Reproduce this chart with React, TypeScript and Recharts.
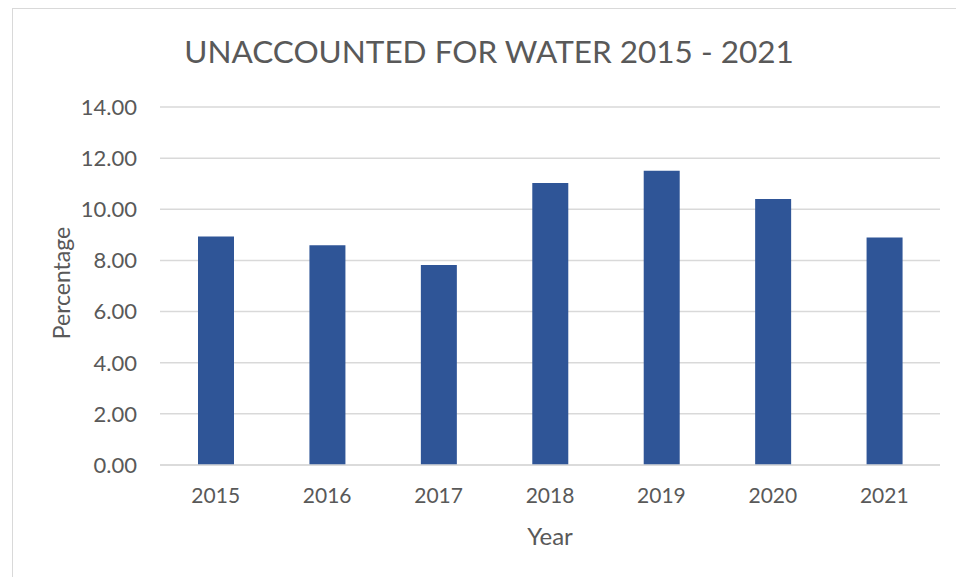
import React from 'react';
import { BarChart, Bar, XAxis, YAxis, CartesianGrid } from 'recharts';

const years = ['2015', '2016', '2017', '2018', '2019', '2020', '2021'];
const percentages = [8.94, 8.59, 7.82, 11.03, 11.51, 10.4, 8.9];
const yTicks = [0, 2, 4, 6, 8, 10, 12, 14];

const data = years.map((y, i) => ({ year: y, value: percentages[i] }));

const FONT = 'Lato, "Open Sans", sans-serif';
const TEXT = '#595959';

export default function App() {
  return (
    <div style={{ position: 'absolute', left: 0, top: 0, width: 956, height: 577, background: '#fff', overflow: 'hidden' }}>
      <div style={{ position: 'absolute', left: 12, top: 8, width: 960, height: 600, border: '1px solid #d9d9d9', boxSizing: 'border-box' }} />
      <div style={{ position: 'absolute', left: 0, top: 31, width: 978, textAlign: 'center', fontFamily: FONT, fontSize: 31.5, color: TEXT, lineHeight: '40px' }}>
        UNACCOUNTED FOR WATER 2015 - 2021
      </div>
      <div style={{ position: 'absolute', left: 0, top: 0 }}>
        <BarChart width={956} height={577} data={data} margin={{ top: 107, right: 16, left: 0, bottom: 0 }} barSize={36}>
          <CartesianGrid vertical={false} stroke="#d9d9d9" strokeWidth={1.5} />
          <XAxis
            dataKey="year"
            height={112}
            axisLine={{ stroke: '#d9d9d9', strokeWidth: 1.5 }}
            tickLine={false}
            tickSize={0}
            tickMargin={23}
            tick={{ fill: TEXT, fontSize: 21, fontFamily: FONT }}
            label={(props: any) => {
              const vb = props.viewBox;
              return (
                <text x={vb.x + vb.width / 2} y={545} textAnchor="middle" fill={TEXT} fontSize={24} fontFamily={FONT}>
                  Year
                </text>
              );
            }}
          />
          <YAxis
            width={160}
            domain={[0, 14]}
            ticks={yTicks}
            interval={0}
            axisLine={false}
            tickLine={false}
            tickSize={0}
            tickMargin={23}
            tickFormatter={(v: number) => v.toFixed(2)}
            tick={{ fill: TEXT, fontSize: 22, fontFamily: FONT }}
            label={(props: any) => {
              const vb = props.viewBox;
              const cy = vb.y + vb.height / 2 - 3;
              return (
                <text x={61} y={cy} transform={`rotate(-90 61 ${cy})`} textAnchor="middle" dominantBaseline="central" fill={TEXT} fontSize={23} fontFamily={FONT}>
                  Percentage
                </text>
              );
            }}
          />
          <Bar dataKey="value" fill="#2F5597" isAnimationActive={false} />
        </BarChart>
      </div>
    </div>
  );
}
